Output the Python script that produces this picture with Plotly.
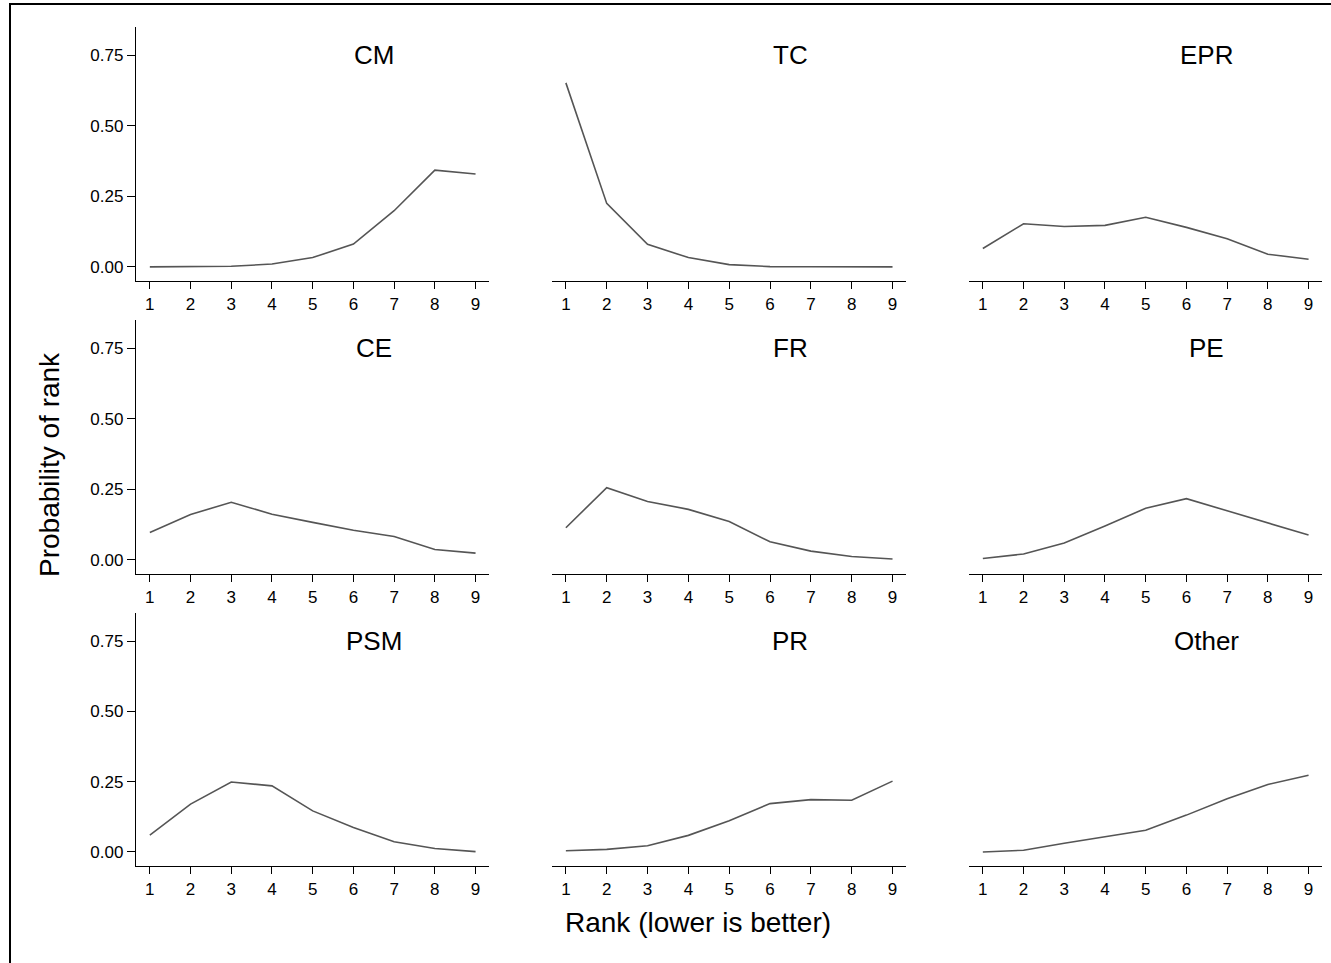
import plotly.graph_objects as go

W, H = 1331, 963

ranks = [1, 2, 3, 4, 5, 6, 7, 8, 9]
panel_names = ["CM", "TC", "EPR", "CE", "FR", "PE", "PSM", "PR", "Other"]

CM = [0.000, 0.000, 0.002, 0.010, 0.033, 0.081, 0.199, 0.343, 0.329]
TC = [0.652, 0.225, 0.080, 0.033, 0.008, 0.001, 0.0005, 0.000, 0.000]
EPR = [0.065, 0.153, 0.143, 0.147, 0.176, 0.140, 0.100, 0.045, 0.027]
CE = [0.097, 0.161, 0.204, 0.162, 0.133, 0.105, 0.083, 0.037, 0.024]
FR = [0.114, 0.256, 0.207, 0.179, 0.136, 0.064, 0.031, 0.012, 0.003]
PE = [0.005, 0.021, 0.060, 0.120, 0.183, 0.217, 0.174, 0.130, 0.088]
PSM = [0.060, 0.170, 0.249, 0.235, 0.146, 0.087, 0.036, 0.012, 0.001]
PR = [0.004, 0.009, 0.022, 0.059, 0.111, 0.172, 0.186, 0.184, 0.252]
Other = [0.000, 0.006, 0.031, 0.054, 0.077, 0.131, 0.189, 0.240, 0.273]

series = [CM, TC, EPR, CE, FR, PE, PSM, PR, Other]

y_tickvals = [0, 0.25, 0.5, 0.75]
y_ticktext = ["0.00", "0.25", "0.50", "0.75"]

FONT = "Liberation Sans, Arial, Helvetica, sans-serif"
TICK_SIZE = 17
PANEL_TITLE_SIZE = 26
AXIS_TITLE_SIZE = 28

# pixel layout
col_px = [(136, 489), (552, 906), (969, 1322)]
row_px = [(27, 281), (320, 574), (613, 866)]

fig = go.Figure()
layout = dict(
    width=W, height=H,
    margin=dict(l=0, r=0, t=0, b=0),
    paper_bgcolor="white", plot_bgcolor="white",
    showlegend=False,
    font=dict(family=FONT, color="black", size=TICK_SIZE),
)

annotations = []
for i, (name, vals) in enumerate(zip(panel_names, series)):
    r, c = divmod(i, 3)
    idx = i + 1
    xa = "xaxis" if idx == 1 else f"xaxis{idx}"
    ya = "yaxis" if idx == 1 else f"yaxis{idx}"
    xr = "x" if idx == 1 else f"x{idx}"
    yr = "y" if idx == 1 else f"y{idx}"
    x0, x1 = col_px[c]
    y0, y1 = row_px[r]
    layout[xa] = dict(
        domain=[x0 / W, x1 / W], anchor=yr,
        range=[0.66, 9.33], tickvals=ranks, ticktext=[str(k) for k in ranks],
        showline=True, linecolor="black", linewidth=1.3,
        ticks="outside", ticklen=7, tickwidth=1.2, tickcolor="black",
        showgrid=False, zeroline=False, fixedrange=True,
        tickfont=dict(size=TICK_SIZE, family=FONT, color="black"),
    )
    layout[ya] = dict(
        domain=[1 - y1 / H, 1 - y0 / H], anchor=xr,
        range=[-0.05, 0.85], tickvals=y_tickvals, ticktext=y_ticktext,
        showline=(c == 0), linecolor="black", linewidth=1.3,
        ticks="outside" if c == 0 else "", ticklen=8, tickwidth=1.2, tickcolor="black",
        showticklabels=(c == 0),
        showgrid=False, zeroline=False, fixedrange=True,
        tickfont=dict(size=TICK_SIZE, family=FONT, color="black"),
    )
    fig.add_trace(go.Scatter(
        x=ranks, y=vals, mode="lines", xaxis=xr, yaxis=yr,
        line=dict(color="#555555", width=1.6), hoverinfo="skip",
    ))
    annotations.append(dict(
        x=6.5, y=0.75, xref=xr, yref=yr, text=name, showarrow=False,
        xanchor="center", yanchor="middle",
        font=dict(size=PANEL_TITLE_SIZE, family=FONT, color="black"),
    ))

annotations.append(dict(
    x=697.5 / W, y=1 - 922 / H, xref="paper", yref="paper",
    text="Rank (lower is better)", showarrow=False,
    xanchor="center", yanchor="middle",
    font=dict(size=AXIS_TITLE_SIZE, family=FONT, color="black"),
))
annotations.append(dict(
    x=50 / W, y=1 - 465 / H, xref="paper", yref="paper",
    text="Probability of rank", showarrow=False, textangle=-90,
    xanchor="center", yanchor="middle",
    font=dict(size=AXIS_TITLE_SIZE, family=FONT, color="black"),
))

layout["annotations"] = annotations
layout["shapes"] = [dict(
    type="rect", xref="paper", yref="paper",
    x0=10 / W, x1=1.02, y0=-0.02, y1=1 - 4 / H,
    line=dict(color="black", width=2), fillcolor="rgba(0,0,0,0)", layer="above",
)]

fig.update_layout(**layout)
fig.write_html("out.html")
